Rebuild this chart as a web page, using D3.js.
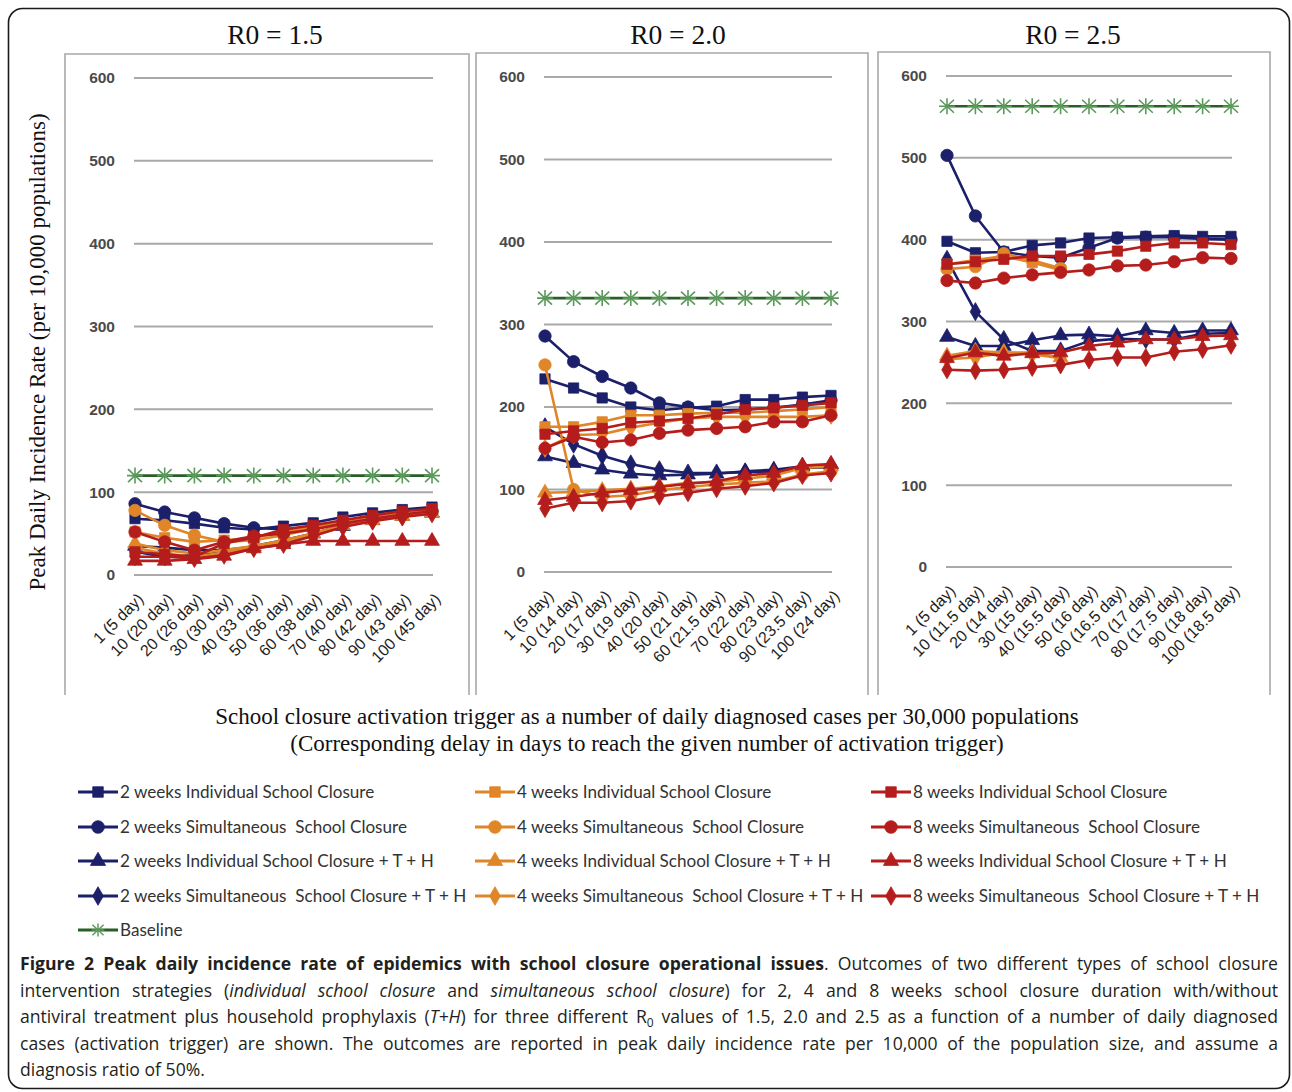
<!DOCTYPE html>
<html>
<head>
<meta charset="utf-8">
<script src="https://cdnjs.cloudflare.com/ajax/libs/d3/7.8.5/d3.min.js"></script>
<style>
  html, body { margin: 0; padding: 0; background: #fff; }
  svg { display: block; }
</style>
</head>
<body>
<svg id="fig" width="1292" height="1092"></svg>
<script>
// ---- Data -------------------------------------------------------------
const seriesNames = [
  "2 weeks Individual School Closure",
  "2 weeks Simultaneous  School Closure",
  "2 weeks Individual School Closure + T + H",
  "2 weeks Simultaneous  School Closure + T + H",
  "4 weeks Individual School Closure",
  "4 weeks Simultaneous  School Closure",
  "4 weeks Individual School Closure + T + H",
  "4 weeks Simultaneous  School Closure + T + H",
  "8 weeks Individual School Closure",
  "8 weeks Simultaneous  School Closure",
  "8 weeks Individual School Closure + T + H",
  "8 weeks Simultaneous  School Closure + T + H"
];
const seriesGroup = ["2w","2w","2w","2w","4w","4w","4w","4w","8w","8w","8w","8w"];
const seriesShape = ["square","circle","triangle","diamond","square","circle","triangle","diamond","square","circle","triangle","diamond"];

const yTicks = [0, 100, 200, 300, 400, 500, 600];

const ticks15 = ["1 (5 day)","10 (20 day)","20 (26 day)","30 (30 day)","40 (33 day)","50 (36 day)","60 (38 day)","70 (40 day)","80 (42 day)","90 (43 day)","100 (45 day)"];
const ticks20 = ["1 (5 day)","10 (14 day)","20 (17 day)","30 (19 day)","40 (20 day)","50 (21 day)","60 (21.5 day)","70 (22 day)","80 (23 day)","90 (23.5 day)","100 (24 day)"];
const ticks25 = ["1 (5 day)","10 (11.5 day)","20 (14 day)","30 (15 day)","40 (15.5 day)","50 (16 day)","60 (16.5 day)","70 (17 day)","80 (17.5 day)","90 (18 day)","100 (18.5 day)"];

// R0 = 1.5, one row per series (same order as seriesNames)
const values15 = [
  [68, 66, 62, 57, 55, 59, 63, 70, 75, 79, 82],
  [86, 76, 69, 62, 57, 55, 58, 64, 69, 73, 77],
  [35, 33, 30, 30, 34, 40, 50, 59, 66, 71, 75],
  [28, 22, 24, 28, 35, 42, 50, 60, 66, 71, 76],
  [52, 45, 40, 42, 45, 52, 58, 64, 70, 74, 78],
  [78, 60, 48, 40, 42, 48, 56, 62, 68, 73, 77],
  [38, 30, 26, 30, 35, 42, 50, 60, 66, 71, 75],
  [33, 26, 22, 27, 33, 40, 50, 59, 66, 71, 75],
  [28, 25, 22, 38, 45, 55, 60, 66, 72, 77, 80],
  [52, 40, 30, 40, 47, 50, 55, 62, 68, 73, 77],
  [17, 17, 19, 23, 32, 37, 41, 41, 41, 41, 41],
  [22, 22, 20, 24, 32, 37, 47, 58, 65, 70, 74]
];
const baseline15 = 120;

// R0 = 2.0
const values20 = [
  [234, 223, 211, 200, 196, 199, 201, 209, 209, 212, 214],
  [286, 255, 237, 223, 205, 200, 196, 197, 199, 203, 208],
  [140, 132, 124, 119, 117, 118, 119, 122, 124, 128, 130],
  [176, 155, 141, 131, 124, 120, 120, 121, 122, 126, 127],
  [176, 176, 182, 190, 190, 192, 193, 193, 195, 197, 200],
  [251, 100, 91, 93, 99, 103, 106, 108, 110, 118, 122],
  [96, 97, 99, 101, 104, 108, 109, 113, 117, 126, 128],
  [150, 166, 167, 175, 181, 186, 188, 188, 188, 188, 190],
  [167, 171, 174, 181, 183, 186, 191, 197, 199, 202, 205],
  [150, 164, 157, 160, 168, 172, 174, 176, 182, 182, 190],
  [87, 91, 96, 99, 103, 107, 110, 117, 120, 129, 131],
  [77, 84, 84, 86, 92, 96, 101, 104, 108, 117, 120]
];
const baseline20 = 332;

// R0 = 2.5 (4-week runs reported up to the 40-case trigger)
const values25 = [
  [398, 384, 385, 393, 396, 402, 403, 404, 405, 404, 404],
  [503, 429, 385, 380, 378, 390, 402, 403, 403, 401, 400],
  [281, 270, 270, 277, 283, 284, 282, 289, 286, 289, 289],
  [376, 312, 278, 264, 264, 276, 279, 278, 278, 285, 286],
  [370, 375, 380, 372, 363, null, null, null, null, null, null],
  [364, 367, 383, 375, 365, null, null, null, null, null, null],
  [258, 264, 262, 262, 256, null, null, null, null, null, null],
  [254, 256, 262, 260, 255, null, null, null, null, null, null],
  [370, 373, 376, 380, 380, 382, 386, 392, 396, 396, 394],
  [350, 347, 353, 357, 360, 363, 368, 369, 373, 378, 377],
  [255, 262, 258, 261, 262, 270, 274, 278, 278, 282, 283],
  [241, 240, 241, 244, 247, 253, 256, 256, 263, 266, 271]
];
const baseline25 = 563;

// ---- Styling / layout -------------------------------------------------
const groupColor = { "2w": "#1c1f6a", "4w": "#e08528", "8w": "#b51d1d" };
const baselineLine = "#285f28";
const baselineStar = "#5c9a5c";

const panels = [
  { title: "R0 = 1.5", titleX: 275, box: [65, 54, 469, 695], xr: [135, 432], yr: [575, 78], ticks: ticks15, values: values15, base: baseline15 },
  { title: "R0 = 2.0", titleX: 678, box: [476, 53, 868, 695], xr: [545, 831], yr: [572, 77], ticks: ticks20, values: values20, base: baseline20 },
  { title: "R0 = 2.5", titleX: 1073, box: [878, 52, 1270, 695], xr: [947, 1231], yr: [567, 76], ticks: ticks25, values: values25, base: baseline25 }
];

const svg = d3.select("#fig");

// outer frame
svg.append("rect")
  .attr("x", 8.5).attr("y", 8.5).attr("width", 1281).attr("height", 1080)
  .attr("rx", 14).attr("ry", 14)
  .attr("fill", "none").attr("stroke", "#1a1a1a").attr("stroke-width", 1.6);

const symbolType = {
  square: d3.symbolSquare,
  circle: d3.symbolCircle,
  triangle: d3.symbolTriangle,
  diamond: d3.symbolDiamond
};
const symbolSize = { square: 105, circle: 120, triangle: 95, diamond: 95 };
const asterisk = "M0,-8L0,8M-7,-6.5L7,6.5M-7,6.5L7,-6.5M-8,0L8,0";

function drawMarker(g, shape, color, x, y, scale = 1) {
  g.append("path")
    .attr("d", d3.symbol().type(symbolType[shape]).size(symbolSize[shape] * scale)())
    .attr("transform", `translate(${x},${y})`)
    .attr("fill", color)
    .attr("stroke", color).attr("stroke-width", 0.8);
}

panels.forEach(p => {
  const g = svg.append("g");
  const [bx0, by0, bx1, by1] = p.box;

  // panel frame: top and sides
  g.append("path")
    .attr("d", `M${bx0},${by1}L${bx0},${by0}L${bx1},${by0}L${bx1},${by1}`)
    .attr("fill", "none").attr("stroke", "#a8a8a8").attr("stroke-width", 1.6);

  g.append("text")
    .attr("x", p.titleX).attr("y", 44)
    .attr("text-anchor", "middle")
    .attr("font-family", "Liberation Serif, serif")
    .attr("font-size", 27.5)
    .attr("fill", "#111")
    .text(p.title);

  const x = d3.scalePoint().domain(d3.range(p.ticks.length)).range(p.xr);
  const y = d3.scaleLinear().domain([0, 600]).range(p.yr);

  // gridlines
  g.selectAll(".grid").data(yTicks).enter().append("line")
    .attr("x1", p.xr[0] - 1).attr("x2", p.xr[1] + 1)
    .attr("y1", d => y(d)).attr("y2", d => y(d))
    .attr("stroke", "#a9a9a9").attr("stroke-width", 2);

  // y tick labels
  const yAxis = d3.axisLeft(y).tickValues(yTicks).tickSize(0).tickPadding(0);
  const ya = g.append("g").attr("transform", `translate(${p.xr[0] - 20},0)`).call(yAxis);
  ya.select(".domain").remove();
  ya.selectAll("text")
    .attr("font-family", "Liberation Sans, Arial, sans-serif")
    .attr("font-size", 15.5).attr("font-weight", "bold")
    .attr("fill", "#4a4a4a");

  // x tick labels, rotated
  const xAxis = d3.axisBottom(x).tickFormat(i => p.ticks[i]).tickSize(0).tickPadding(0);
  const xa = g.append("g").attr("transform", `translate(0,${y(0) + 21})`).call(xAxis);
  xa.select(".domain").remove();
  xa.selectAll("text")
    .attr("font-family", "Liberation Sans, Arial, sans-serif")
    .attr("font-size", 16)
    .attr("fill", "#1e1e1e")
    .attr("text-anchor", "end")
    .attr("dy", "0.35em")
    .attr("transform", "translate(5,0) rotate(-45)");

  // series
  const line = d3.line()
    .defined(d => d != null)
    .x((d, i) => x(i))
    .y(d => y(d));

  p.values.forEach((vals, si) => {
    const color = groupColor[seriesGroup[si]];
    const sg = g.append("g");
    sg.append("path")
      .attr("d", line(vals))
      .attr("fill", "none").attr("stroke", color)
      .attr("stroke-width", 2.6).attr("stroke-linejoin", "round");
    vals.forEach((v, i) => {
      if (v != null) drawMarker(sg, seriesShape[si], color, x(i), y(v));
    });
  });

  // baseline
  const baseVals = p.ticks.map(() => p.base);
  g.append("path")
    .attr("d", line(baseVals))
    .attr("fill", "none").attr("stroke", baselineLine).attr("stroke-width", 2.6);
  baseVals.forEach((v, i) => {
    g.append("path")
      .attr("d", asterisk)
      .attr("transform", `translate(${x(i)},${y(v)})`)
      .attr("fill", "none").attr("stroke", baselineStar).attr("stroke-width", 1.6);
  });
});

// y axis title
svg.append("text")
  .attr("transform", "translate(45,352) rotate(-90)")
  .attr("text-anchor", "middle")
  .attr("font-family", "Liberation Serif, serif")
  .attr("font-size", 23)
  .attr("fill", "#111")
  .text("Peak Daily Incidence Rate (per 10,000 populations)");

// x axis title
const xTitle = ["School closure activation trigger as a number of daily diagnosed cases per 30,000 populations",
                "(Corresponding delay in days to reach the given number of activation trigger)"];
xTitle.forEach((t, i) => {
  svg.append("text")
    .attr("x", 647).attr("y", 724 + i * 27)
    .attr("text-anchor", "middle")
    .attr("font-family", "Liberation Serif, serif")
    .attr("font-size", 23)
    .attr("fill", "#111")
    .text(t);
});

// legend
const legendCols = [78, 475, 871];
const legendRows = [792, 827, 861, 896, 930];
const legendFont = 17.1;
const legend = svg.append("g");
seriesNames.forEach((name, si) => {
  const col = Math.floor(si / 4), row = si % 4;
  const lx = legendCols[col], ly = legendRows[row];
  const color = groupColor[seriesGroup[si]];
  legend.append("line")
    .attr("x1", lx).attr("x2", lx + 40).attr("y1", ly).attr("y2", ly)
    .attr("stroke", color).attr("stroke-width", 3.2);
  drawMarker(legend, seriesShape[si], color, lx + 20, ly, 1.05);
  legend.append("text")
    .attr("x", lx + 42).attr("y", ly + 6)
    .attr("font-family", "Lato, sans-serif")
    .attr("font-size", legendFont)
    .attr("fill", "#333")
    .style("white-space", "pre")
    .text(name);
});
{
  const lx = legendCols[0], ly = legendRows[4];
  legend.append("line")
    .attr("x1", lx).attr("x2", lx + 40).attr("y1", ly).attr("y2", ly)
    .attr("stroke", baselineLine).attr("stroke-width", 3.2);
  legend.append("path")
    .attr("d", asterisk)
    .attr("transform", `translate(${lx + 20},${ly}) scale(0.8)`)
    .attr("fill", "none").attr("stroke", baselineStar).attr("stroke-width", 1.8);
  legend.append("text")
    .attr("x", lx + 42).attr("y", ly + 6)
    .attr("font-family", "Lato, sans-serif")
    .attr("font-size", legendFont)
    .attr("fill", "#333")
    .text("Baseline");
}

// caption: each line is a list of [text, style] runs
const captionLines = [
  [["Figure 2 Peak daily incidence rate of epidemics with school closure operational issues", "b"], [". Outcomes of two different types of school closure", ""]],
  [["intervention strategies (", ""], ["individual school closure", "i"], [" and ", ""], ["simultaneous school closure", "i"], [") for 2, 4 and 8 weeks school closure duration with/without", ""]],
  [["antiviral treatment plus household prophylaxis (", ""], ["T+H", "i"], [") for three different R", ""], ["0", "sub"], [" values of 1.5, 2.0 and 2.5 as a function of a number of daily diagnosed", ""]],
  [["cases (activation trigger) are shown. The outcomes are reported in peak daily incidence rate per 10,000 of the population size, and assume a", ""]],
  [["diagnosis ratio of 50%.", ""]]
];
const capX0 = 20, capX1 = 1278, capY0 = 970, capDY = 26.6;
captionLines.forEach((runs, li) => {
  const t = svg.append("text")
    .attr("x", capX0).attr("y", capY0 + li * capDY)
    .attr("font-family", "Open Sans, sans-serif")
    .attr("font-size", 17.6)
    .attr("fill", "#231f20")
    .style("white-space", "pre");
  runs.forEach(([txt, st], ri) => {
    const ts = t.append("tspan").text(txt);
    if (st === "b") ts.attr("font-weight", "bold");
    if (st === "i") ts.attr("font-style", "italic");
    if (st === "sub") ts.attr("font-size", 12).attr("dy", 4);
    if (ri > 0 && runs[ri - 1][1] === "sub") ts.attr("dy", -4);
  });
  if (li < captionLines.length - 1) {
    const natural = t.node().getComputedTextLength();
    const spaces = runs.map(r => r[0]).join("").split(" ").length - 1;
    t.attr("word-spacing", ((capX1 - capX0) - natural) / spaces);
  }
});
</script>
</body>
</html>
